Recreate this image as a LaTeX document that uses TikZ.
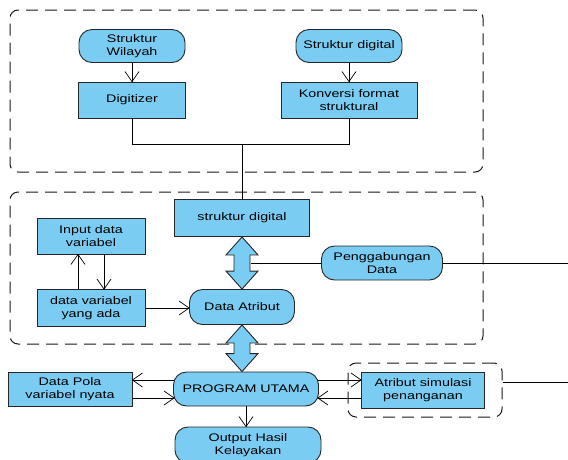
\documentclass[tikz,border=0pt]{standalone}
\usepackage{fontspec}
\setmainfont{Liberation Sans}[FakeStretch=1.3]
\usetikzlibrary{calc}
\definecolor{boxblue}{RGB}{122,204,242}
\newcommand\fatarr[2]{%
  \draw[fat] (#1.south) -- ($(#1.south)+(16,18)$) -- ($(#1.south)+(8,18)$)
   -- ($(#2.north -| #1.south)+(8,-18)$) -- ($(#2.north -| #1.south)+(16,-18)$)
   -- (#2.north -| #1.south) -- ($(#2.north -| #1.south)+(-16,-18)$)
   -- ($(#2.north -| #1.south)+(-8,-18)$) -- ($(#1.south)+(-8,18)$)
   -- ($(#1.south)+(-16,18)$) -- cycle;}
% open chevron tip at point #1, pointing in canvas direction #2 (degrees)
\newcommand\chev[2]{\draw[ln, shift={(#1)}, rotate=#2] (-10,-7) -- (0,0) -- (-10,7);}
\begin{document}
\begin{tikzpicture}[x=1pt,y=-1pt,
  font=\fontsize{11}{13.5}\selectfont,
  box/.style={draw=black!85, fill=boxblue, line width=0.9pt, align=center, inner sep=0pt},
  pill/.style={box, rounded corners=13pt},
  grp/.style={draw=black!90, dash pattern=on 12pt off 7pt, rounded corners=8pt, line width=1pt, inner sep=0pt},
  ln/.style={line width=0.7pt},
  fat/.style={draw=black!85, fill=boxblue, line width=0.9pt}]
\useasboundingbox (0,0) rectangle (568,459);
\coordinate (edge) at (568,0);
% group boxes
\node[grp, minimum width=473, minimum height=162] (g1) at (246.5,91) {};
\node[grp, minimum width=473, minimum height=152] (g2) at (246.5,268) {};
\node[grp, minimum width=154, minimum height=54] (g3) at (425,390) {};
% nodes
\node[pill, minimum width=106, minimum height=33] (sw) at (132,46) {Struktur\\Wilayah};
\node[pill, minimum width=106, minimum height=33] (sdig) at (349,46) {Struktur digital};
\node[box, minimum width=107, minimum height=36] (dg) at (132,100) {Digitizer};
\node[box, minimum width=136, minimum height=36] (kf) at (349,100) {Konversi format\\struktural};
\node[box, minimum width=135, minimum height=37] (sd) at (242,218) {struktur digital};
\node[box, minimum width=108, minimum height=36] (idv) at (91,236) {Input data\\variabel};
\node[box, minimum width=108, minimum height=37] (dva) at (91,308) {data variabel\\yang ada};
\node[pill, minimum width=105, minimum height=35] (da) at (242,307) {Data Atribut};
\node[pill, minimum width=121, minimum height=34] (pg) at (382,263) {Penggabungan\\Data};
\node[pill, minimum width=145, minimum height=34] (pu) at (246,389) {PROGRAM UTAMA};
\node[box, minimum width=124, minimum height=34] (dp) at (70,389) {Data Pola\\variabel nyata};
\node[box, minimum width=123, minimum height=36] (as) at (423,390) {Atribut simulasi\\penanganan};
\node[pill, minimum width=146, minimum height=36] (oh) at (248,445) {Output Hasil\\Kelayakan};
% connectors
\draw[ln] (sw) -- (dg); \chev{dg.north}{-90}
\draw[ln] (sdig) -- (kf); \chev{kf.north}{-90}
\coordinate (j) at ($(sd.north)+(0,-55)$);
\draw[ln] (dg.south) |- (j) -| (kf.south);
\draw[ln] (j) -- (sd.north);
\coordinate (u1) at ($(dva.north)+(-13,0)$);
\coordinate (u2) at ($(idv.south)+(-13,0)$);
\draw[ln] (u1) -- (u2); \chev{u2}{90}
\coordinate (d1) at ($(idv.south)+(13,0)$);
\coordinate (d2) at ($(dva.north)+(13,0)$);
\draw[ln] (d1) -- (d2); \chev{d2}{-90}
\coordinate (daw) at (dva.east -| da.west);
\draw[ln] (dva.east) -- (daw); \chev{daw}{0}
\fatarr{sd}{da}
\fatarr{da}{pu}
\coordinate (fs) at ($(sd.south)+(9,0)$);
\draw[ln] (pg.west) -- (pg.west -| fs);
\draw[ln] (pg.east) -- (pg.east -| edge);
\coordinate (pw1) at ($(pu.west)+(1,-9)$);
\coordinate (pw2) at ($(pu.west)+(1,9)$);
\coordinate (pe1) at ($(pu.east)+(-1,-9)$);
\coordinate (pe2) at ($(pu.east)+(-1,9)$);
\coordinate (dpe1) at (pw1 -| dp.east);
\coordinate (dpe2) at (pw2 -| dp.east);
\coordinate (asw1) at (pe1 -| as.west);
\coordinate (asw2) at (pe2 -| as.west);
\draw[ln] (pw1) -- (dpe1); \chev{dpe1}{180}
\draw[ln] (dpe2) -- (pw2); \chev{pw2}{0}
\draw[ln] (pe1) -- (asw1); \chev{asw1}{0}
\draw[ln] (asw2) -- (pe2); \chev{pe2}{180}
\coordinate (g3r) at ($(g3.east)+(0,-8)$);
\draw[ln] (g3r) -- (g3r -| edge);
\coordinate (ohn) at (pu.south |- oh.north);
\draw[ln] (pu.south) -- (ohn); \chev{ohn}{-90}
\end{tikzpicture}
\end{document}
